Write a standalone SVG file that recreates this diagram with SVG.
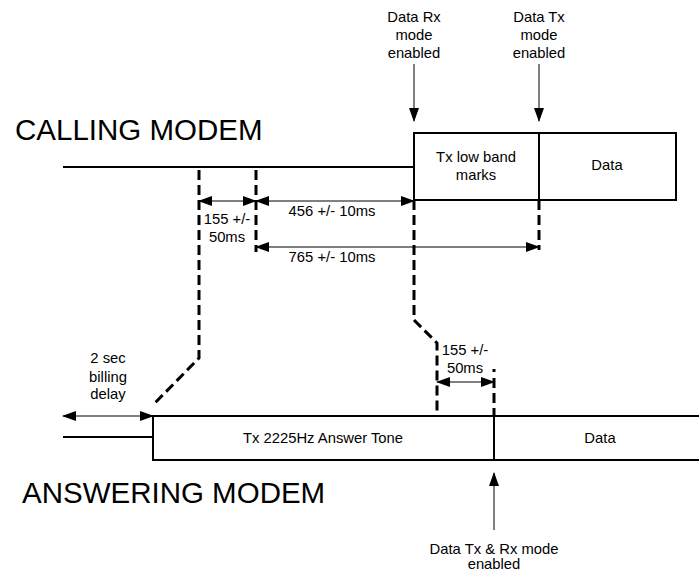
<svg xmlns="http://www.w3.org/2000/svg" width="699" height="572" viewBox="0 0 699 572">
<style>
text{font-family:"Liberation Sans",Arial,sans-serif;fill:#000}
.s{font-size:14.8px;text-anchor:middle}
.big{font-size:29.5px}
.box{fill:#fff;stroke:#000;stroke-width:2}
.ln{fill:none;stroke:#000;stroke-width:2}
.dash{fill:none;stroke:#000;stroke-width:3;stroke-dasharray:10 5}
.arr{fill:none;stroke:#000;stroke-width:1}
</style>
<defs>
<marker id="ah" markerWidth="14" markerHeight="10" refX="13" refY="5" orient="auto-start-reverse" markerUnits="userSpaceOnUse">
<path d="M0,0 L14,5 L0,10 Z" fill="#000"/>
</marker>
</defs>
<rect width="699" height="572" fill="#fff"/>
<text class="big" x="15" y="140">CALLING MODEM</text>
<text class="big" x="22" y="503">ANSWERING MODEM</text>
<g id="calling-line"><line class="ln" x1="63" y1="167" x2="414" y2="167"/></g>
<g id="calling-marks"><rect class="box" x="414" y="133" width="125" height="67"/><text class="s" x="476" y="162">Tx low band</text><text class="s" x="476" y="180">marks</text></g>
<g id="calling-data"><rect class="box" x="539" y="133" width="137" height="67"/><text class="s" x="607" y="170">Data</text></g>
<g id="answer-line"><line class="ln" x1="63" y1="437" x2="153" y2="437"/></g>
<g id="answer-tone"><rect class="box" x="153" y="416" width="341" height="44"/><text class="s" x="323" y="443">Tx 2225Hz Answer Tone</text></g>
<g id="answer-data"><rect class="box" x="494" y="416" width="220" height="44"/><text class="s" x="600" y="443">Data</text></g>
<g id="label-rx"><text class="s" x="414" y="22">Data Rx</text><text class="s" x="414" y="40">mode</text><text class="s" x="414" y="58">enabled</text></g>
<g id="label-tx"><text class="s" x="539" y="22">Data Tx</text><text class="s" x="539" y="40">mode</text><text class="s" x="539" y="58">enabled</text></g>
<g id="label-txrx"><text class="s" x="494" y="554">Data Tx &amp; Rx mode</text><text class="s" x="494" y="569">enabled</text></g>
<g id="dim-labels">
<text class="s" x="227" y="224">155 +/-</text><text class="s" x="227" y="242">50ms</text>
<text class="s" x="332" y="216">456 +/- 10ms</text>
<text class="s" x="332" y="262">765 +/- 10ms</text>
<text class="s" x="108" y="363">2 sec</text><text class="s" x="108" y="382">billing</text><text class="s" x="108" y="399">delay</text>
<text class="s" x="465" y="355">155 +/-</text><text class="s" x="465" y="373">50ms</text>
</g>
<g id="connectors">
<polyline class="dash" points="199,170 199,358 153,405"/>
<line class="dash" x1="256" y1="170" x2="256" y2="252"/>
<polyline class="dash" points="414,200 414,320 437,343 437,416"/>
<line class="dash" x1="539" y1="200" x2="539" y2="250"/>
<line class="dash" x1="494" y1="369" x2="494" y2="372"/>
<line class="dash" x1="494" y1="378" x2="494" y2="416"/>
<line class="arr" x1="414" y1="64" x2="414" y2="121" marker-end="url(#ah)"/>
<line class="arr" x1="539" y1="64" x2="539" y2="121" marker-end="url(#ah)"/>
<line class="arr" x1="494" y1="530" x2="494" y2="473" marker-end="url(#ah)"/>
<line class="arr" x1="199" y1="201" x2="256" y2="201" marker-start="url(#ah)" marker-end="url(#ah)"/>
<line class="arr" x1="256" y1="201" x2="414" y2="201" marker-start="url(#ah)" marker-end="url(#ah)"/>
<line class="arr" x1="256" y1="247" x2="539" y2="247" marker-start="url(#ah)" marker-end="url(#ah)"/>
<line class="arr" x1="63" y1="416" x2="153" y2="416" marker-start="url(#ah)" marker-end="url(#ah)"/>
<line class="arr" x1="437" y1="382" x2="494" y2="382" marker-start="url(#ah)" marker-end="url(#ah)"/>
</g>
</svg>
